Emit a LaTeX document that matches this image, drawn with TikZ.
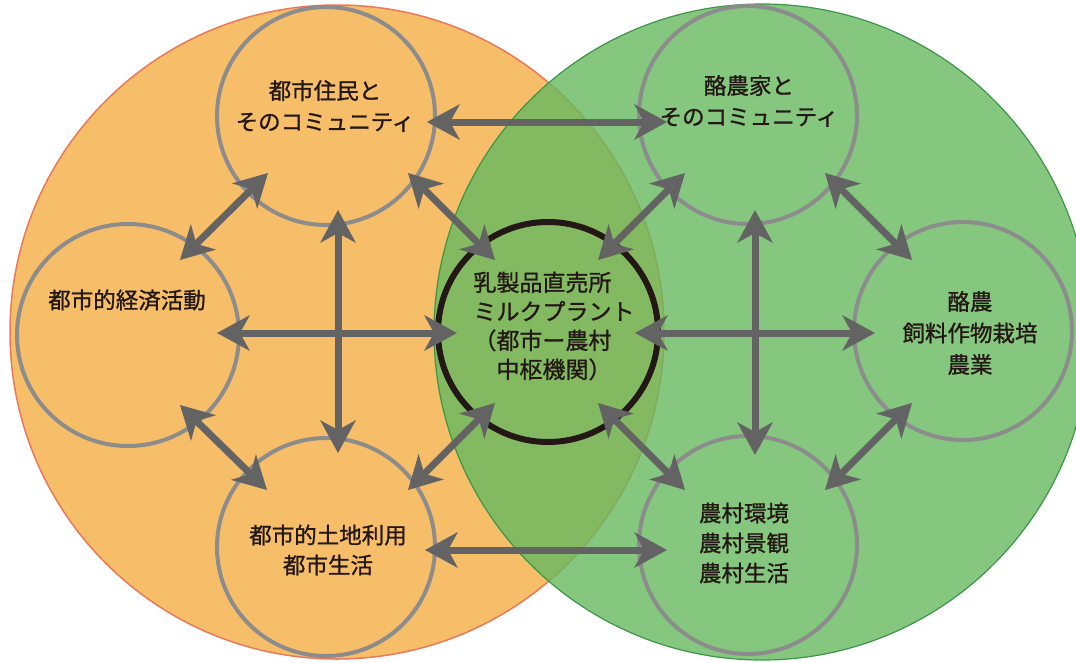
\documentclass[tikz,border=0pt]{standalone}
\usepackage{fontspec}
\newfontfamily\jp[FakeBold=1]{Noto Sans CJK JP}
\usetikzlibrary{arrows.meta}
\definecolor{orangefill}{RGB}{247,190,106}
\definecolor{orangeline}{RGB}{236,120,90}
\definecolor{greenfill}{RGB}{103,185,95}
\definecolor{greenline}{RGB}{60,150,70}
\definecolor{ringgray}{RGB}{140,140,140}
\definecolor{arrowgray}{RGB}{100,99,100}
\definecolor{inkdark}{RGB}{35,24,21}
\tikzset{
  bigcirc/.style={circle, inner sep=0pt, line width=1.5pt},
  smallcirc/.style={circle, inner sep=0pt, draw=ringgray, line width=4pt},
  hubcirc/.style={circle, inner sep=0pt, draw=inkdark, line width=6pt},
  lbl/.style={text=inkdark, inner sep=0pt, align=center, font=\jp\fontsize{22.5}{31}\selectfont},
  conn/.style={draw=arrowgray, line width=7pt,
    >={Stealth[length=33pt,width=36pt,inset=10pt,line width=0pt]}, <->}
}
\begin{document}
\begin{tikzpicture}[x=1pt,y=-1pt]
\useasboundingbox (0,0) rectangle (1076,662);
\clip (0,0) rectangle (1076,662);
% big circles
\node[bigcirc, fill=orangefill, draw=orangeline, minimum size=654pt] (urban) at (337,332) {};
\node[bigcirc, fill=greenfill, fill opacity=0.8, draw=greenline, line width=1.2pt, minimum size=656pt] (rural) at (762,332) {};
% small circles
\node[smallcirc, minimum size=218pt] (tl) at (326,116) {};
\node[smallcirc, minimum size=218pt] (tr) at (748,115) {};
\node[smallcirc, minimum size=222pt] (lf) at (128,335) {};
\node[smallcirc, minimum size=218pt] (rt) at (963,331) {};
\node[smallcirc, minimum size=218pt] (bl) at (326,547) {};
\node[smallcirc, minimum size=218pt] (br) at (748,545) {};
\node[hubcirc, minimum size=220pt] (hub) at (548,332) {};
% connector end points
\coordinate (tl2tr) at (427,122);  \coordinate (tr2tl) at (667,122);
\coordinate (bl2br) at (425,550);  \coordinate (br2bl) at (667,550);
\coordinate (hubL) at (457,333);   \coordinate (lf2hub) at (217,333);
\coordinate (tl2bl) at (338,210);  \coordinate (bl2tl) at (338,453);
\coordinate (hubR) at (635,333);   \coordinate (rt2hub) at (875,333);
\coordinate (tr2br) at (755,210);  \coordinate (br2tr) at (755,455);
\coordinate (tl2lf) at (268,173);  \coordinate (lf2tl) at (180,260);
\coordinate (tl2hub) at (408,173); \coordinate (hubTL) at (495,260);
\coordinate (lf2bl) at (180,405);  \coordinate (bl2lf) at (267,490);
\coordinate (bl2hub) at (408,490); \coordinate (hubBL) at (495,403);
\coordinate (hubTR) at (598,260);  \coordinate (tr2hub) at (685,173);
\coordinate (tr2rt) at (825,173);  \coordinate (rt2tr) at (912,260);
\coordinate (hubBR) at (598,403);  \coordinate (br2hub) at (685,490);
\coordinate (rt2br) at (912,403);  \coordinate (br2rt) at (825,490);
% connectors
\draw[conn] (tl2tr) -- (tr2tl);
\draw[conn] (bl2br) -- (br2bl);
\draw[conn] (lf2hub) -- (hubL);
\draw[conn] (tl2bl) -- (bl2tl);
\draw[conn] (hubR) -- (rt2hub);
\draw[conn] (tr2br) -- (br2tr);
\draw[conn] (tl2lf) -- (lf2tl);
\draw[conn] (tl2hub) -- (hubTL);
\draw[conn] (lf2bl) -- (bl2lf);
\draw[conn] (bl2hub) -- (hubBL);
\draw[conn] (hubTR) -- (tr2hub);
\draw[conn] (tr2rt) -- (rt2tr);
\draw[conn] (hubBR) -- (br2hub);
\draw[conn] (rt2br) -- (br2rt);
% labels
\node[lbl] (tltxt) at (325,106) {都市住民と\\そのコミュニティ};
\node[lbl] (trtxt) at (749,101) {酪農家と\\そのコミュニティ};
\node[lbl] (lftxt) at (127,300) {都市的経済活動};
\node[lbl, font=\jp\fontsize{22.5}{31.5}\selectfont] (rttxt) at (970,333) {酪農\\飼料作物栽培\\農業};
\node[lbl, font=\jp\fontsize{22.5}{30}\selectfont] (bltxt) at (328,550) {都市的土地利用\\都市生活};
\node[lbl, font=\jp\fontsize{22.5}{30}\selectfont] (brtxt) at (744,543) {農村環境\\農村景観\\農村生活};
\node[lbl, align=left, font=\jp\fontsize{23}{29}\selectfont] (hubtxt) at (554,326) {乳製品直売所\\ミルクプラント\\（都市ー農村\\\hspace*{1em}中枢機関）};
\end{tikzpicture}
\end{document}
